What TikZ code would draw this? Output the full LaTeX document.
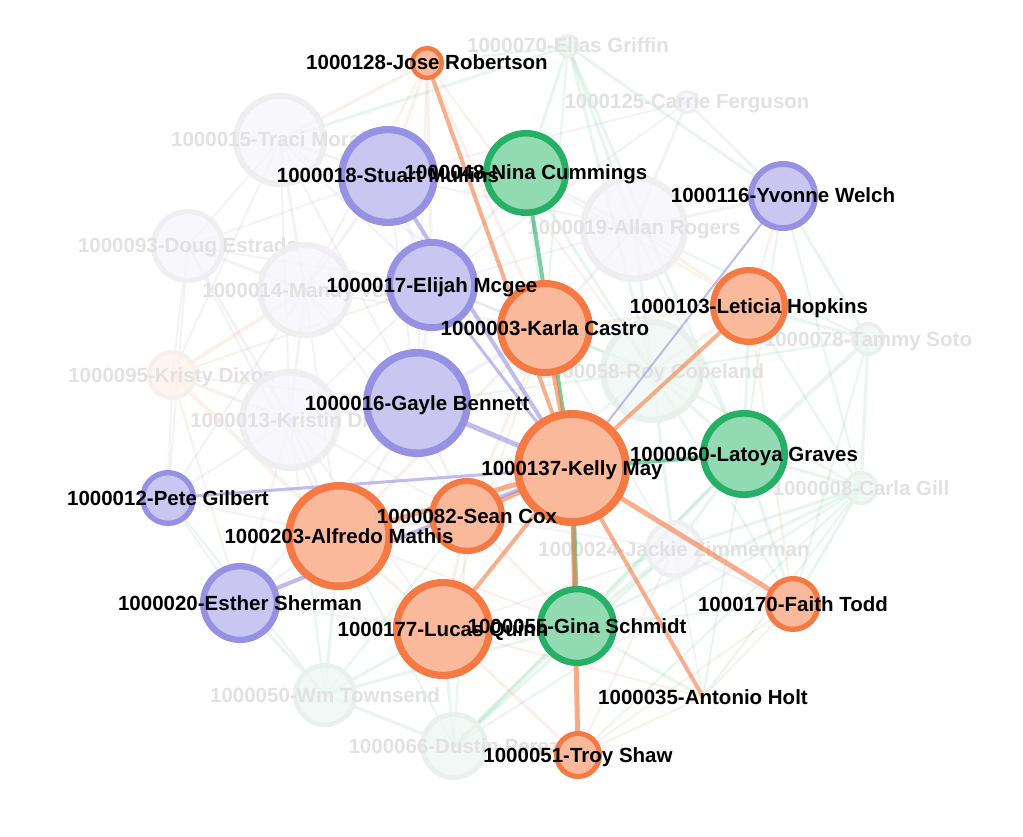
\documentclass[tikz,border=0pt]{standalone}
\usepackage{fontspec}
\setmainfont{Liberation Sans}
\definecolor{eB}{RGB}{150,145,226}
\definecolor{eO}{RGB}{245,121,66}
\definecolor{eG}{RGB}{38,176,102}
\definecolor{hfB}{RGB}{201,198,242}
\definecolor{hsB}{RGB}{150,145,226}
\definecolor{hfO}{RGB}{250,185,155}
\definecolor{hsO}{RGB}{245,121,66}
\definecolor{hfG}{RGB}{146,218,178}
\definecolor{hsG}{RGB}{38,176,102}
\definecolor{ffB}{RGB}{246,245,252}
\definecolor{fsB}{RGB}{239,239,241}
\definecolor{ffG}{RGB}{239,247,243}
\definecolor{fsG}{RGB}{234,241,237}
\definecolor{ffO}{RGB}{254,243,237}
\definecolor{fsO}{RGB}{246,239,235}
\definecolor{FL}{RGB}{226,226,226}
\begin{document}
\begin{tikzpicture}[x=1pt,y=-1pt,
  lbl/.style={font=\fontsize{20.5}{24}\selectfont\bfseries, anchor=base, inner sep=0pt},
  flbl/.style={lbl, text=FL},
  fedge/.style={opacity=0.11},
  hedge/.style={opacity=0.6},
  ball/.style={circle, inner sep=0pt}]
\useasboundingbox (0,0) rectangle (1023,837);
\fill[white] (0,0) rectangle (1023,837);

% positions
\foreach \n/\x/\y in {128/427/63, 18/388/176, 48/526/173, 116/783/196, 17/432/285,
  3/545/328, 103/749/306, 16/417/403, 137/572/468, 60/744/454, 12/168/498,
  82/467/516, 203/339/536, 20/240/603, 177/443/629, 55/577/626, 170/793/604,
  35/703/697, 51/578/755, 70/568/46, 125/687/102, 15/280/140, 93/188/246,
  14/305/290, 95/172/375, 13/290/420, 19/634/228, 58/652/371, 78/868/339,
  8/861/488, 24/674/549, 50/325/695, 66/454/746}
  \coordinate (n\n) at (\x,\y);

% faded edges
\foreach \a/\b/\c/\w in {70/15/G/3, 70/48/G/3, 70/19/G/3, 70/58/G/3, 70/116/G/3, 70/3/G/2, 70/60/G/3, 70/128/G/2,
  125/116/B/3, 125/17/B/2, 125/19/B/3, 125/18/B/2,
  15/18/B/3, 15/93/B/2, 15/14/B/3, 15/13/B/2, 15/17/B/2, 15/16/B/2, 15/95/B/2, 15/128/O/3, 15/3/B/2,
  128/18/O/3, 128/17/O/3, 128/3/O/3, 128/16/O/2, 128/14/O/2, 128/58/O/2,
  93/14/B/3, 93/95/B/2, 93/13/B/3, 93/12/B/2, 93/17/B/2, 93/18/B/2, 93/203/B/2,
  14/18/B/3, 14/17/B/3, 14/13/B/3, 14/16/B/2, 14/95/O/4, 14/203/B/2, 14/12/B/2, 14/82/B/2, 14/3/B/2,
  95/13/O/3, 95/12/O/2, 95/203/O/4, 95/16/O/2, 95/17/O/2, 95/20/O/2,
  13/16/B/3, 13/203/B/3, 13/12/B/2, 13/20/B/2, 13/82/B/2, 13/177/B/2, 13/17/B/2,
  12/203/B/2, 12/20/B/2, 12/50/G/2,
  20/203/B/3, 20/50/G/3, 20/177/B/2, 20/82/B/2, 20/16/B/2,
  50/203/G/3, 50/177/G/3, 50/66/G/3, 50/82/G/2, 50/55/G/3, 50/13/G/2,
  66/177/G/3, 66/55/G/4, 66/51/G/3, 66/82/G/2, 66/24/G/3, 66/60/G/3, 66/8/G/2, 66/203/G/2,
  51/177/O/3, 51/55/O/3, 51/35/O/2, 51/170/O/2, 51/8/G/2, 51/24/O/2,
  35/55/G/3, 35/170/O/2, 35/24/B/2, 35/60/G/2, 35/177/O/2, 35/8/G/2,
  170/24/B/2, 170/8/G/3, 170/60/G/3, 170/78/G/2, 170/55/G/2, 170/58/G/2, 170/103/O/2,
  8/78/G/3, 8/60/G/3, 8/24/G/3, 8/116/G/2, 8/55/G/3, 8/58/G/2, 8/103/G/2,
  78/116/G/3, 78/103/G/3, 78/60/G/4, 78/58/G/2, 78/19/G/2,
  24/60/G/3, 24/55/G/4, 24/58/G/3, 24/3/B/2, 24/82/B/2, 24/177/B/2,
  60/58/G/3, 60/103/G/3, 60/19/G/2, 60/116/G/2, 60/55/G/4,
  103/58/O/3, 103/19/O/3, 103/116/O/2, 103/3/O/3, 103/48/O/2,
  58/3/G/3, 58/19/G/3, 58/48/G/3, 58/16/G/2, 58/17/G/2, 58/82/G/2,
  19/48/B/3, 19/3/B/3, 19/116/B/3, 19/17/B/2, 19/18/B/2,
  48/18/G/3, 48/17/G/3, 48/3/G/3,
  18/17/B/4, 18/16/B/2, 17/16/B/3, 17/3/B/3,
  16/3/B/4, 16/82/B/3, 16/203/B/3,
  3/82/O/3, 3/203/O/3, 3/177/O/2,
  82/203/O/3, 82/177/O/3, 82/55/O/3,
  203/177/O/3, 203/55/O/2, 177/55/O/3}
  \draw[fedge, draw=e\c, line width=\w pt] (n\a) -- (n\b);

% faded nodes
\foreach \n/\R/\c/\t in {70/12/G/1000070-Elias Griffin, 125/12/B/1000125-Carrie Ferguson,
  15/47/B/1000015-Traci Morales, 93/37/B/1000093-Doug Estrada, 14/48/B/1000014-Mandy Vega,
  95/25/O/1000095-Kristy Dixon, 13/51/B/1000013-Kristin Diaz, 19/54/B/1000019-Allan Rogers,
  58/52/G/1000058-Roy Copeland, 78/17/G/1000078-Tammy Soto, 8/17/G/1000008-Carla Gill,
  24/29/B/1000024-Jackie Zimmerman, 50/32/G/1000050-Wm Townsend, 66/34/G/1000066-Dustin Perez}
{
  \pgfmathsetmacro\lw{2+\R/12}
  \pgfmathsetmacro\dd{2*\R-\lw}
  \node[ball, draw=fs\c, fill=ff\c, fill opacity=0.8, line width=\lw pt, minimum size=\dd pt] (c\n) at (n\n) {};
  \node[flbl] (l\n) at ([yshift=-7pt]n\n) {\t};
}

% highlighted edges (neighbours of 1000137)
\foreach \b/\c/\w in {128/O/4, 18/B/4, 48/G/4, 17/B/3, 3/O/5, 116/B/2, 103/O/4, 16/B/5,
  60/G/4, 12/B/3, 82/O/5, 203/O/5, 20/B/4, 177/O/4, 55/G/5, 170/O/5, 35/O/4, 51/O/5}
  \draw[hedge, draw=e\c, line width=\w pt] (n137) -- (n\b);

% highlighted nodes
\foreach \n/\R/\c in {128/17/O, 18/50/B, 48/43/G, 116/35/B, 17/46/B, 3/48/O, 103/39/O,
  16/54/B, 60/44/G, 12/28/B, 82/38/O, 203/54/O, 20/40/B, 177/50/O, 55/40/G, 170/28/O,
  51/24/O, 137/58/O}
{
  \pgfmathsetmacro\lw{3+\R/12}
  \pgfmathsetmacro\dd{2*\R-\lw}
  \node[ball, draw=hs\c, fill=hf\c, line width=\lw pt, minimum size=\dd pt] (c\n) at (n\n) {};
}

% highlighted labels
\foreach \n/\t in {128/1000128-Jose Robertson, 18/1000018-Stuart Mullins, 48/1000048-Nina Cummings,
  116/1000116-Yvonne Welch, 17/1000017-Elijah Mcgee, 3/1000003-Karla Castro,
  103/1000103-Leticia Hopkins, 16/1000016-Gayle Bennett, 60/1000060-Latoya Graves,
  12/1000012-Pete Gilbert, 82/1000082-Sean Cox, 203/1000203-Alfredo Mathis,
  20/1000020-Esther Sherman, 177/1000177-Lucas Quinn, 55/1000055-Gina Schmidt,
  170/1000170-Faith Todd, 35/1000035-Antonio Holt, 51/1000051-Troy Shaw, 137/1000137-Kelly May}
  \node[lbl] (l\n) at ([yshift=-7pt]n\n) {\t};
\end{tikzpicture}
\end{document}
